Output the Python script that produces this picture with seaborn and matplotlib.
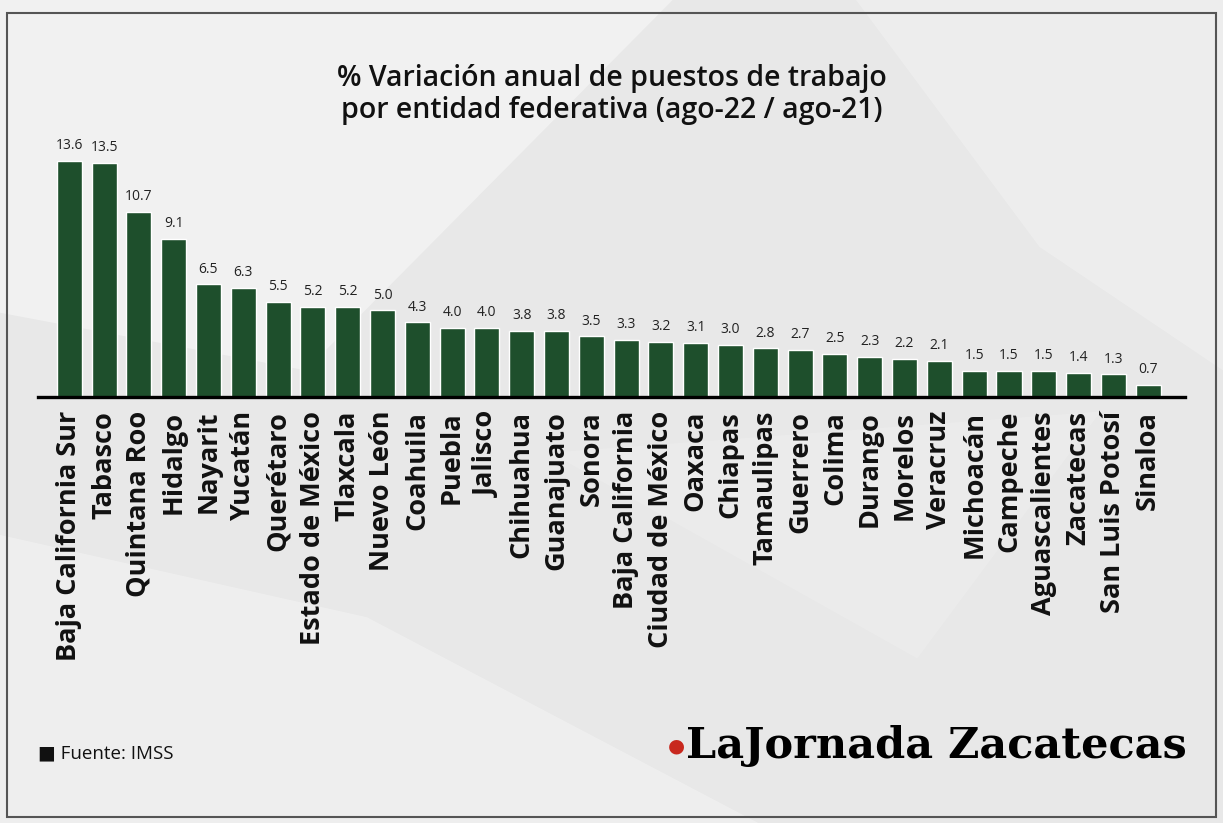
import matplotlib
matplotlib.use("Agg")
import matplotlib.pyplot as plt
import seaborn as sns
import pandas as pd
from matplotlib.patches import Polygon, Rectangle

# data
estados = ["Baja California Sur", "Tabasco", "Quintana Roo", "Hidalgo", "Nayarit",
           "Yucatán", "Querétaro", "Estado de México", "Tlaxcala", "Nuevo León",
           "Coahuila", "Puebla", "Jalisco", "Chihuahua", "Guanajuato", "Sonora",
           "Baja California", "Ciudad de México", "Oaxaca", "Chiapas", "Tamaulipas",
           "Guerrero", "Colima", "Durango", "Morelos", "Veracruz", "Michoacán",
           "Campeche", "Aguascalientes", "Zacatecas", "San Luis Potosí", "Sinaloa"]
variacion = [13.6, 13.5, 10.7, 9.1, 6.5, 6.3, 5.5, 5.2, 5.2, 5.0,
             4.3, 4.0, 4.0, 3.8, 3.8, 3.5, 3.3, 3.2, 3.1, 3.0, 2.8,
             2.7, 2.5, 2.3, 2.2, 2.1, 1.5, 1.5, 1.5, 1.4, 1.3, 0.7]

titulo = "% Variación anual de puestos de trabajo\npor entidad federativa (ago-22 / ago-21)"
fuente = "Fuente: IMSS"

df = pd.DataFrame({"estado": estados, "valor": variacion})

sns.set_style("white")
plt.rcParams['font.family'] = ['Open Sans', 'DejaVu Sans']

verde = "#1e4f2c"

fig = plt.figure(figsize=(12.23, 8.23), dpi=100)
fig.patch.set_facecolor("#e8e8e8")

# soft background shapes
bg = fig.add_axes([0, 0, 1, 1], zorder=-10)
bg.set_xlim(0, 1)
bg.set_ylim(0, 1)
bg.axis("off")
bg.add_patch(Polygon([[0, 1], [0.55, 1], [0.25, 0.55], [0, 0.62]], closed=True,
                     facecolor="white", alpha=0.4, lw=0))
bg.add_patch(Polygon([[0, 0.35], [0.3, 0.25], [0.62, 0], [0, 0]], closed=True,
                     facecolor="white", alpha=0.3, lw=0))
bg.add_patch(Polygon([[0.7, 1], [1, 1], [1, 0.55], [0.85, 0.7]], closed=True,
                     facecolor="white", alpha=0.25, lw=0))
bg.add_patch(Polygon([[0.45, 0.45], [0.75, 0.2], [0.9, 0.5]], closed=True,
                     facecolor="white", alpha=0.15, lw=0))
# frame
bg.add_patch(Rectangle((7 / 1223, 6 / 823), 1209 / 1223, 804 / 823, fill=False,
                       edgecolor="#555555", lw=1.5))

ax = fig.add_axes([0.031, 0.5176, 0.938, 0.3160])
sns.barplot(data=df, x="estado", y="valor", color=verde, width=0.72,
            saturation=1, ax=ax)
ax.set_facecolor("none")
ax.set_xlim(-0.9, 32.06)
ax.set_ylim(0, 15)
ax.set_xlabel("")
ax.set_ylabel("")
ax.set_yticks([])
for s in ["top", "right", "left"]:
    ax.spines[s].set_visible(False)
ax.spines["bottom"].set_linewidth(2.4)
ax.spines["bottom"].set_color("black")
ax.tick_params(axis="x", length=0, pad=10)
ax.set_xticks(range(len(estados)))
ax.set_xticklabels(estados, rotation=90, fontsize=19.5, fontweight="bold",
                   color="#111111", va="top", ha="center")

for i, v in enumerate(variacion):
    ax.text(i, v + 0.45, f"{v:.1f}", ha="center", va="bottom", fontsize=10,
            color="#222222")

fig.text(0.5, 0.885, titulo, ha="center", va="center", fontsize=20.5,
         fontweight="semibold", color="#111111", linespacing=1.15)

fig.text(0.031, 0.085, "\u25A0 " + fuente, ha="left", va="center", fontsize=13.5,
         color="#111111")

# logo
fig.text(0.553, 0.093, "\u25CF", ha="center", va="center", fontsize=14,
         color="#c8281e")
fig.text(0.561, 0.093, "LaJornada Zacatecas", ha="left", va="center",
         fontsize=31, fontweight="bold", family="DejaVu Serif", color="black")

fig.savefig("out.png", dpi=100, facecolor=fig.get_facecolor())
